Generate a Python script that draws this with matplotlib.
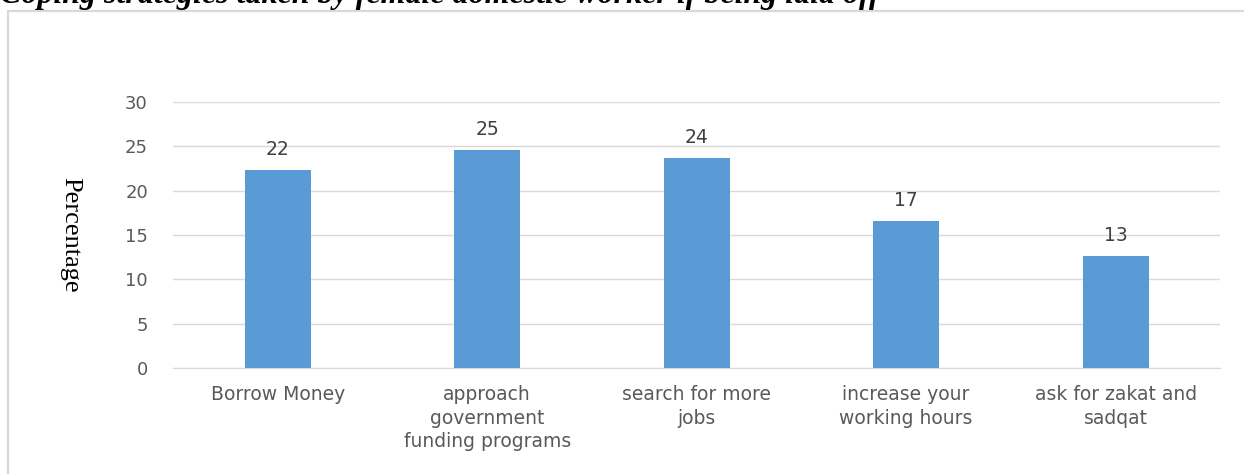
import matplotlib.pyplot as plt
from matplotlib.patches import Rectangle

# estratégias e percentuais
estrategias = ['Borrow Money', 'approach\ngovernment\nfunding programs',
               'search for more\njobs', 'increase your\nworking hours',
               'ask for zakat and\nsadqat']
percentual = [22.3, 24.6, 23.7, 16.6, 12.6]
ticks_y = [0, 5, 10, 15, 20, 25, 30]

fonte = 'DejaVu Sans'

fig = plt.figure(figsize=(12.44, 4.74), dpi=100)
ax = fig.add_axes([0.139, 0.2236, 0.842, 0.5612])

# moldura cinza do gráfico
fig.patches.append(Rectangle((8 / 1244, -0.1), 1.2, 1 - 11 / 474 + 0.1,
                             transform=fig.transFigure, fill=False,
                             edgecolor='#D9D9D9', linewidth=1.6))

# título (cortado no topo)
fig.text(0.0, 1 - 3.5 / 474, 'Coping strategies taken by female domestic worker if being laid off',
         fontfamily='Liberation Serif', fontweight='bold', fontstyle='italic',
         fontsize=23, va='baseline', ha='left')

x = range(len(estrategias))
ax.bar(x, percentual, width=0.315, color='#5B9BD5', zorder=3)
for i, v in enumerate(percentual):
    ax.annotate('{:.0f}'.format(v), (i, v), xytext=(0, 8), textcoords='offset points',
                ha='center', va='bottom', fontsize=13.5, color='#404040',
                fontfamily=fonte)

ax.set_xlim(-0.5, len(estrategias) - 0.5)
ax.set_ylim(0, 30)
ax.set_yticks(ticks_y)
ax.set_xticks(list(x))
ax.set_xticklabels(estrategias, fontfamily=fonte, fontsize=13.5,
                   color='#595959', linespacing=1.3, va='top')
ax.tick_params(axis='y', labelsize=13, labelcolor='#595959', length=0, pad=18)
ax.tick_params(axis='x', length=0, pad=12.5)
for lbl in ax.get_yticklabels():
    lbl.set_fontfamily(fonte)
ax.grid(axis='y', color='#D9D9D9', linewidth=1, zorder=0)
for s in ['top', 'right', 'left']:
    ax.spines[s].set_visible(False)
ax.spines['bottom'].set_color('#D9D9D9')

ax.set_ylabel('Percentage', fontfamily='Liberation Serif', fontsize=19,
              rotation=-90, va='center', ha='center')
ax.yaxis.set_label_coords(-0.0984, 0.5)

fig.savefig('out.png', dpi=100)
